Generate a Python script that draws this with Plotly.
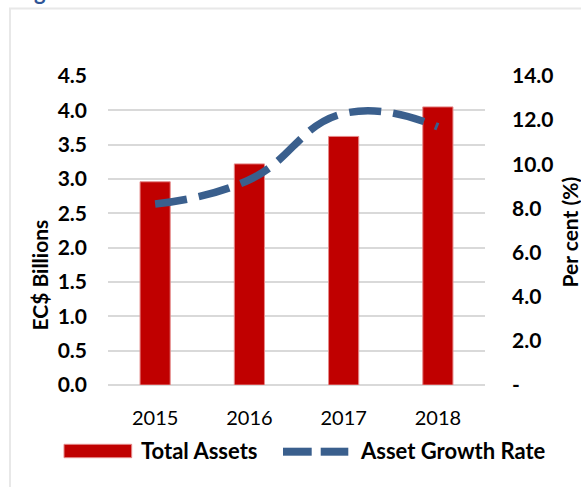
import plotly.graph_objects as go

years = ["2015", "2016", "2017", "2018"]
total_assets = [2.96, 3.22, 3.62, 4.05]      # EC$ Billions
growth_rate = [8.2, 9.3, 12.3, 11.7]         # Per cent
left_tickvals = [0, 0.5, 1.0, 1.5, 2.0, 2.5, 3.0, 3.5, 4.0, 4.5]
left_ticktext = ["0.0", "0.5", "1.0", "1.5", "2.0", "2.5", "3.0", "3.5", "4.0", "4.5"]
right_tickvals = [0, 2, 4, 6, 8, 10, 12, 14]
right_ticktext = ["-", "2.0", "4.0", "6.0", "8.0", "10.0", "12.0", "14.0"]
title_text = "Figure 6: Credit Union Sector Total Assets"
bar_name = "Total Assets"
line_name = "Asset Growth Rate"

W, H = 581, 487
L, R, T, B = 108, 96, 76, 102
pw, ph = W - L - R, H - T - B


def px(x):
    return (x - L) / pw


def py(y):
    return (H - B - y) / ph


RED = "#C00000"
BLUE = "#3A5F8D"
FONT = "Lato, 'Noto Sans', 'Liberation Sans', sans-serif"

fig = go.Figure()
fig.add_trace(go.Bar(
    x=years, y=total_assets, name=bar_name,
    marker=dict(color=RED, line=dict(color="#E58A8A", width=1)),
    showlegend=False,
))
fig.add_trace(go.Scatter(
    x=years, y=growth_rate, name=line_name, yaxis="y2", mode="lines",
    line=dict(color=BLUE, width=7.5, shape="spline", smoothing=1.3, dash="32px,12px"),
    showlegend=False,
))

shapes = [
    # outer frame
    dict(type="rect", xref="paper", yref="paper", x0=px(10), x1=px(600),
         y0=py(8.5), y1=py(500), line=dict(color="#E8E8E8", width=2),
         fillcolor="rgba(0,0,0,0)", layer="below"),
    # legend swatches
    dict(type="rect", xref="paper", yref="paper", x0=px(64), x1=px(131.7),
         y0=py(457.7), y1=py(444.3), fillcolor=RED,
         line=dict(color="#E58A8A", width=1)),
    dict(type="line", xref="paper", yref="paper", x0=px(283), x1=px(311.7),
         y0=py(451.7), y1=py(451.7), line=dict(color=BLUE, width=8)),
    dict(type="line", xref="paper", yref="paper", x0=px(320.7), x1=px(348.3),
         y0=py(451.7), y1=py(451.7), line=dict(color=BLUE, width=8)),
]

annotations = [
    dict(text=title_text, xref="paper", yref="paper", x=px(14), y=py(7),
         xanchor="left", yanchor="bottom", showarrow=False,
         font=dict(family=FONT, size=22, color="#2F5597", weight="bold")),
    dict(text="EC$ Billions", xref="paper", yref="paper", x=px(39), y=py(275.5),
         xanchor="center", yanchor="middle", textangle=-90, showarrow=False,
         font=dict(family=FONT, size=21, color="#000000", weight="bold")),
    dict(text="Per cent (%)", xref="paper", yref="paper", x=px(569), y=py(232.5),
         xanchor="center", yanchor="middle", textangle=-90, showarrow=False,
         font=dict(family=FONT, size=21, color="#000000", weight="bold")),
    dict(text=bar_name, xref="paper", yref="paper", x=px(139), y=py(451),
         xanchor="left", yanchor="middle", showarrow=False,
         font=dict(family=FONT, size=22, color="#000000", weight="bold")),
    dict(text=line_name, xref="paper", yref="paper", x=px(358), y=py(451),
         xanchor="left", yanchor="middle", showarrow=False,
         font=dict(family=FONT, size=22, color="#000000", weight="bold")),
]

fig.update_layout(
    width=W, height=H,
    margin=dict(l=L, r=R, t=T, b=B, pad=0),
    paper_bgcolor="white", plot_bgcolor="white",
    bargap=0.68,
    font=dict(family=FONT, color="#000000"),
    shapes=shapes, annotations=annotations,
    xaxis=dict(type="category", range=[-0.5, 3.5], showgrid=False, zeroline=False,
               showline=False, ticks="", tickfont=dict(family=FONT, size=20),
               ticklabelstandoff=19),
    yaxis=dict(range=[0, 4.5], tickvals=left_tickvals, ticktext=left_ticktext,
               showgrid=True, gridcolor="#D9D9D9", gridwidth=1.5,
               zeroline=True, zerolinecolor="#D9D9D9", zerolinewidth=1.5,
               showline=False, ticks="",
               tickfont=dict(family=FONT, size=21, weight="bold"),
               ticklabelstandoff=20),
    yaxis2=dict(range=[0, 14], overlaying="y", side="right",
                tickvals=right_tickvals, ticktext=right_ticktext,
                showgrid=False, zeroline=False, showline=False, ticks="",
                tickfont=dict(family=FONT, size=21, weight="bold"),
                ticklabelstandoff=26),
)

fig.write_html(
    "out.html",
    config={"displayModeBar": False},
    post_script="document.body.style.margin='0';document.body.style.overflow='hidden';",
)
